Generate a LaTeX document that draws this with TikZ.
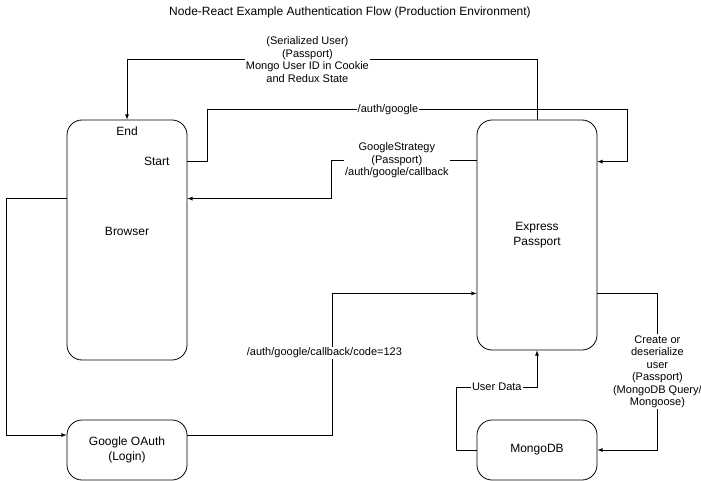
\documentclass[tikz,border=0pt]{standalone}
\usepackage{fontspec}
\setmainfont{Liberation Sans}
\usetikzlibrary{positioning,arrows}

\begin{document}
\begin{tikzpicture}[
          x=1pt,y=-1pt,
          font=\fontsize{11}{12.5}\selectfont,
          box/.style={draw,line width=0.8pt,rounded corners=15pt,minimum width=120pt,align=center,font=\fontsize{12}{14.5}\selectfont},
          lbl/.style={fill=white,align=center,inner sep=1pt},
          flow/.style={-latex,line width=0.8pt}
            ]
            \useasboundingbox (0,0) rectangle (701,481);
            \node (title) at (350,12) {\fontsize{12}{14}\selectfont Node-React Example Authentication Flow (Production Environment)};
            \node[box,minimum height=240pt,text depth=17pt] (br) at (127,240) {Browser};
            \node[box,minimum height=230pt] (exp) at (537,235) {Express\\Passport};
            \node[box,minimum height=60pt] (go) at (127,450) {Google OAuth\\(Login)};
            \node[box,minimum height=60pt] (mongo) at (537,450) {MongoDB};
            \node[font=\fontsize{12}{14}\selectfont] (brend) at (127,131) {End};
            \node[font=\fontsize{12}{14}\selectfont,anchor=east] (brstart) at (173,161) {Start};
            % cookie back to the browser
            \draw[flow] (exp.north) -- ++(0,-60) -| node[lbl,pos=0.28]{(Serialized User)\\(Passport)\\Mongo User ID in Cookie\\and Redux State} (br.north);
            % login request
            \draw[flow] ([yshift=-42pt]br.north east) -- ++(20,0) -- ++(0,-52) -- node[lbl,pos=0.43]{/auth/google} ++(420,0) |- ([yshift=-42pt]exp.north east);
            \draw[flow] ([yshift=-41pt]exp.north west) -- node[lbl,pos=0.55]{GoogleStrategy\\(Passport)\\/auth/google/callback} ++(-145,0) |- ([yshift=-79pt]br.north east);
            \draw[flow] ([yshift=-79pt]br.north west) -- ++(-60,0) |- ([yshift=15pt]go.west);
            \draw[flow] ([yshift=15pt]go.east) -- ++(145,0) |- node[lbl,pos=0.29,xshift=-8pt]{/auth/google/callback/code=123} ([yshift=57pt]exp.south west);
            % database round trip
            \draw[flow] ([yshift=57pt]exp.south east) -- ++(60,0) |- node[lbl,pos=0.25]{Create or\\deserialize\\user\\(Passport)\\(MongoDB Query/\\Mongoose)} (mongo.east);
            \draw[flow] (mongo.west) -- ++(-20,0) -- ++(0,-63) -| node[lbl,pos=0.25]{User Data} (exp.south);
\end{tikzpicture}
\end{document}
